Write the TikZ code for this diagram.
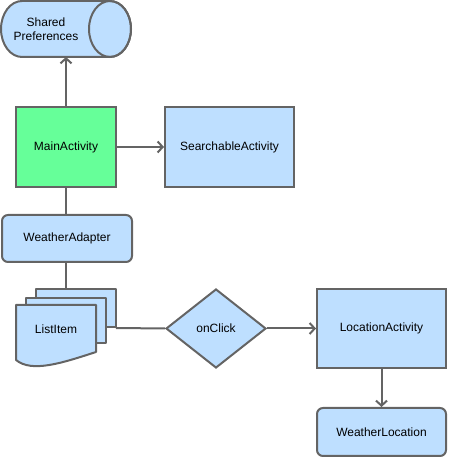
\documentclass[tikz,border=0pt]{standalone}
\usepackage{fontspec}
\setmainfont{Liberation Sans}
\usetikzlibrary{arrows.meta,shapes.geometric}
\definecolor{boxblue}{RGB}{190,223,255}
\definecolor{boxgreen}{RGB}{102,255,153}
\definecolor{edge}{RGB}{100,100,100}
\tikzset{
  base/.style={draw=edge, line width=2pt, fill=boxblue, inner sep=0pt, align=center,
    font=\fontsize{12}{14.5}\selectfont},
  rectbox/.style={base, rectangle},
  roundbox/.style={base, rectangle, rounded corners=6pt},
  decision/.style={base, diamond, aspect=1.27},
  conn/.style={draw=edge, line width=2pt},
  arr/.style={conn, -{Straight Barb[length=5pt,width=11pt]}},
  txt/.style={inner sep=0pt, align=center, font=\fontsize{12}{14.5}\selectfont},
}
\begin{document}
\begin{tikzpicture}[x=1pt,y=1pt]
\useasboundingbox (0,0) rectangle (448,457);
% cylinder Shared Preferences
\draw[draw=edge, line width=2pt, fill=boxblue] (22,456) -- (110,456)
  arc[start angle=90, end angle=-90, x radius=21, y radius=28]
  -- (22,400) arc[start angle=270, end angle=90, x radius=21, y radius=28] -- cycle;
\draw[draw=edge, line width=2pt] (110,428) ellipse [x radius=21, y radius=28];
\node[txt] (sp) at (46,428) {Shared\\Preferences};
\coordinate (spbot) at (66,400);

\node[rectbox, fill=boxgreen, minimum width=100pt, minimum height=80pt] (main) at (66,310) {MainActivity};
\node[rectbox, minimum width=129pt, minimum height=80pt] (search) at (229.5,310) {SearchableActivity};
\node[roundbox, minimum width=130pt, minimum height=47pt] (adapter) at (67,218.5) {WeatherAdapter};

% ListItem multi-document
\draw[draw=edge, line width=2pt, fill=boxblue, line join=round] (36,130) rectangle (116,168);
\draw[draw=edge, line width=2pt, fill=boxblue, line join=round] (26,114) rectangle (106,159);
\draw[draw=edge, line width=2pt, fill=boxblue, line join=round] (16,152) -- (96,152) -- (96,105)
  .. controls (62,94) and (32,84) .. (16,97) -- cycle;
\node[txt] (list) at (56,128) {ListItem};
\coordinate (listtop) at (66,168);
\coordinate (listright) at (116,129);

\node[decision, minimum width=100pt, minimum height=79pt] (click) at (216,128.5) {onClick};
\node[rectbox, minimum width=129pt, minimum height=79pt] (loc) at (381.5,128.5) {LocationActivity};
\node[roundbox, minimum width=129pt, minimum height=48pt] (wloc) at (381.5,25) {WeatherLocation};

\draw[arr] (main.north) -- (spbot);
\draw[arr] (main.east) -- (search.west);
\draw[conn] (main.south) -- (adapter.north -| main.south);
\draw[conn] (adapter.south -| main.south) -- (listtop);
\draw[conn] (listright) -- (click.west);
\draw[arr] (click.east) -- (loc.west);
\draw[arr] (loc.south) -- (wloc.north);
\end{tikzpicture}
\end{document}
